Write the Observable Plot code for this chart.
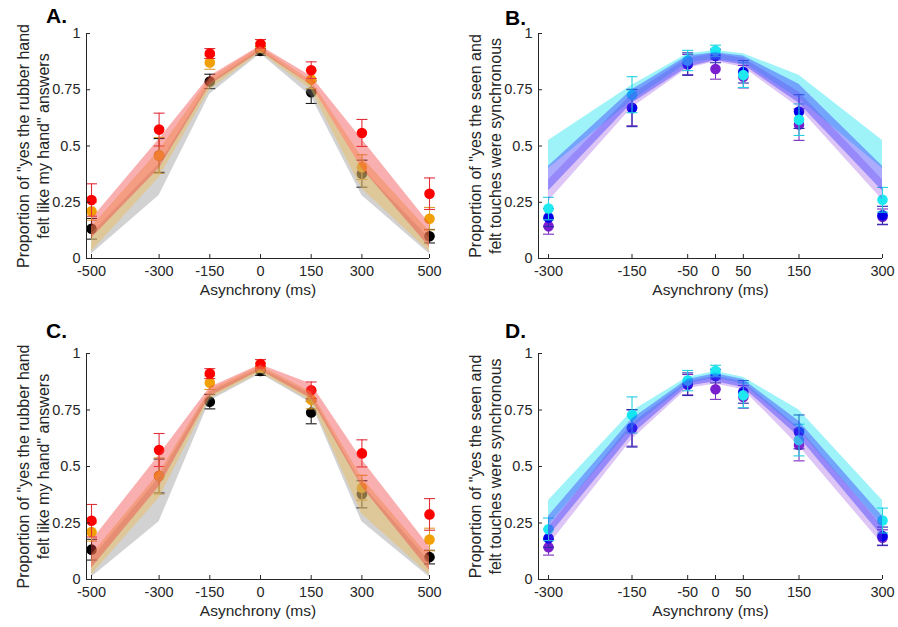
<!DOCTYPE html>
<html>
<head>
<meta charset="utf-8">
<script src="https://cdn.jsdelivr.net/npm/d3@7"></script>
<script src="https://cdn.jsdelivr.net/npm/@observablehq/plot@0.6"></script>
<style>
  body { margin: 0; background: #fff; }
  #wrap { position: relative; width: 898px; height: 627px; overflow: hidden; font-family: "Liberation Sans", Arial, Helvetica, sans-serif; }
  .pl { position: absolute; }
  .letter { position: absolute; font-weight: bold; font-size: 21px; line-height: 21px; color: #000; }
</style>
</head>
<body>
<div id="wrap"></div>
<script>
// ---------- data ----------
const asyncA = [-500, -300, -150, 0, 150, 300, 500];
const asyncB = [-300, -150, -50, 0, 50, 150, 300];
const yTicks = [0, 0.25, 0.5, 0.75, 1];
const yTickLabels = ["0", "0.25", "0.5", "0.75", "1"];

// panels A and C: observed proportions (mean, error)
const redMean = [0.260, 0.573, 0.911, 0.953, 0.837, 0.558, 0.288];
const redErr = [0.072, 0.073, 0.022, 0.020, 0.037, 0.060, 0.070];
const orangeMean = [0.210, 0.458, 0.871, 0.938, 0.795, 0.406, 0.177];
const orangeErr = [0.040, 0.080, 0.030, 0.020, 0.040, 0.055, 0.050];
const blackMean = [0.132, 0.458, 0.787, 0.923, 0.739, 0.377, 0.099];
const blackErr = [0.046, 0.075, 0.032, 0.020, 0.050, 0.060, 0.030];

// panel A model bands
const aRedLo = [0.09, 0.40, 0.77, 0.920, 0.77, 0.40, 0.05];
const aRedHi = [0.175, 0.53, 0.81, 0.945, 0.81, 0.53, 0.155];
const aWheatLo = [0.03, 0.36, 0.75, 0.915, 0.75, 0.31, 0.03];
const aWheatHi = [0.14, 0.48, 0.80, 0.940, 0.79, 0.45, 0.12];
const aGrayLo = [0.02, 0.28, 0.73, 0.910, 0.72, 0.28, 0.02];
const aGrayHi = [0.11, 0.42, 0.78, 0.930, 0.77, 0.40, 0.09];

// panel C model bands
const cRedLo = [0.05, 0.41, 0.81, 0.925, 0.80, 0.41, 0.04];
const cRedHi = [0.17, 0.55, 0.85, 0.950, 0.865, 0.53, 0.145];
const cWheatLo = [0.02, 0.36, 0.80, 0.915, 0.79, 0.29, 0.02];
const cWheatHi = [0.11, 0.47, 0.84, 0.945, 0.83, 0.45, 0.10];
const cGrayLo = [0.01, 0.255, 0.79, 0.910, 0.78, 0.255, 0.01];
const cGrayHi = [0.09, 0.45, 0.83, 0.935, 0.82, 0.42, 0.08];

// panels B and D: observed proportions
const cyanMean = [0.222, 0.728, 0.880, 0.923, 0.815, 0.617, 0.261];
const cyanErr = [0.050, 0.080, 0.045, 0.025, 0.055, 0.070, 0.055];
const blueMean = [0.182, 0.669, 0.864, 0.900, 0.830, 0.653, 0.192];
const blueErr = [0.040, 0.083, 0.050, 0.030, 0.050, 0.075, 0.040];
const purpleMean = [0.143, 0.670, 0.862, 0.842, 0.808, 0.595, 0.185];
const purpleErr = [0.035, 0.080, 0.045, 0.045, 0.050, 0.070, 0.035];

// panel B model bands
const bCyanLo = [0.40, 0.70, 0.87, 0.885, 0.87, 0.71, 0.40];
const bCyanHi = [0.525, 0.77, 0.91, 0.925, 0.91, 0.815, 0.525];
const bBlueLo = [0.30, 0.69, 0.85, 0.880, 0.86, 0.69, 0.30];
const bBlueHi = [0.41, 0.75, 0.90, 0.915, 0.90, 0.775, 0.41];
const bLavLo = [0.255, 0.67, 0.845, 0.875, 0.85, 0.67, 0.26];
const bLavHi = [0.35, 0.73, 0.89, 0.910, 0.89, 0.74, 0.35];

// panel D model bands
const dCyanLo = [0.24, 0.67, 0.865, 0.890, 0.865, 0.66, 0.24];
const dCyanHi = [0.35, 0.745, 0.895, 0.920, 0.895, 0.75, 0.35];
const dBlueLo = [0.19, 0.64, 0.855, 0.875, 0.85, 0.63, 0.19];
const dBlueHi = [0.28, 0.71, 0.885, 0.910, 0.885, 0.70, 0.28];
const dLavLo = [0.15, 0.62, 0.845, 0.865, 0.84, 0.59, 0.155];
const dLavHi = [0.23, 0.69, 0.875, 0.900, 0.875, 0.67, 0.235];

const yLabelA = "Proportion of \"yes the rubber hand\nfelt like my hand\" answers";
const yLabelB = "Proportion of \"yes the seen and\nfelt touches were synchronous";
const xLabel = "Asynchrony (ms)";

// ---------- helpers ----------
const TXT = "#262626";
const capSymbol = {
  draw(context, size) {
    const r = Math.sqrt(size / Math.PI);
    context.moveTo(-r, 0);
    context.lineTo(r, 0);
  }
};

function pts(xs, mean, err) {
  return xs.map((x, i) => ({x, y: mean[i], lo: mean[i] - err[i], hi: mean[i] + err[i]}));
}
function band(xs, lo, hi) {
  return xs.map((x, i) => ({x, lo: lo[i], hi: hi[i]}));
}

function panel(cfg) {
  const marks = [];
  // observed points with error bars (drawn under the model bands)
  for (const s of cfg.series) {
    const d = pts(cfg.xs, s.mean, s.err);
    marks.push(Plot.ruleX(d, {x: "x", y1: "lo", y2: "hi", stroke: s.bar, strokeWidth: 1.1}));
    marks.push(Plot.dot(d, {x: "x", y: "lo", symbol: capSymbol, r: 5.5, stroke: s.bar, fill: "none", strokeWidth: 1.1}));
    marks.push(Plot.dot(d, {x: "x", y: "hi", symbol: capSymbol, r: 5.5, stroke: s.bar, fill: "none", strokeWidth: 1.1}));
    marks.push(Plot.dot(d, {x: "x", y: "y", r: 5.3, fill: s.color, stroke: "none"}));
  }
  for (const b of cfg.bands) {
    marks.push(Plot.areaY(band(cfg.xs, b.lo, b.hi), {x: "x", y1: "lo", y2: "hi", fill: b.fill, fillOpacity: b.op, curve: "linear"}));
  }
  // axes lines
  marks.push(Plot.ruleX([cfg.xDomain[0]], {stroke: TXT, strokeWidth: 1}));
  marks.push(Plot.ruleY([0], {stroke: TXT, strokeWidth: 1}));
  // inward tick marks
  marks.push(Plot.axisX({ticks: cfg.xs, tickSize: -4, tickFormat: () => "", stroke: TXT, label: null}));
  marks.push(Plot.axisY({ticks: yTicks, tickSize: -4, tickFormat: () => "", stroke: TXT, label: null}));
  // tick labels
  marks.push(Plot.axisX({ticks: cfg.xs, tickSize: 0, tickPadding: 7, tickFormat: d => String(d), fill: TXT, fontSize: 14.5, label: null}));
  marks.push(Plot.axisY({ticks: yTicks, tickSize: 0, tickPadding: 6, tickFormat: d => yTickLabels[yTicks.indexOf(d)], fill: TXT, fontSize: 14.5, label: null}));
  // titles
  marks.push(Plot.text([xLabel], {text: d => d, frameAnchor: "bottom", dy: 36, fontSize: 15.5, fill: TXT}));
  marks.push(Plot.text([cfg.yLabel], {text: d => d, frameAnchor: "left", textAnchor: "middle", lineAnchor: "middle", dx: -54, rotate: -90, fontSize: 16, lineHeight: 1.25, fill: TXT}));

  const svg = Plot.plot({
    width: 449,
    height: cfg.height,
    marginLeft: cfg.ml, marginRight: cfg.mr, marginTop: cfg.mt, marginBottom: cfg.mb,
    style: {fontFamily: "'Liberation Sans', Arial, Helvetica, sans-serif", fontSize: "14.5px", color: TXT, background: "white", overflow: "visible"},
    x: {domain: cfg.xDomain, axis: null},
    y: {domain: [0, 1], axis: null},
    marks
  });
  svg.classList.add("pl");
  svg.style.left = cfg.left + "px";
  svg.style.top = cfg.top + "px";
  return svg;
}

const seriesA = [
  {mean: blackMean, err: blackErr, color: "#000000", bar: "#1a1a1a"},
  {mean: orangeMean, err: orangeErr, color: "#f2a007", bar: "#e0a030"},
  {mean: redMean, err: redErr, color: "#ff0000", bar: "#e0303a"}
];
const seriesB = [
  {mean: purpleMean, err: purpleErr, color: "#7a1fcf", bar: "#7a2ac0"},
  {mean: blueMean, err: blueErr, color: "#0000e6", bar: "#2a2ab0"},
  {mean: cyanMean, err: cyanErr, color: "#1ee8f0", bar: "#22d0e0"}
];

const wrap = document.getElementById("wrap");
const xDomA = [-514.8, 500];
const xDomB = [-318, 300];

wrap.appendChild(panel({
  xs: asyncA, xDomain: xDomA, left: 0, top: 0, height: 313, ml: 86, mr: 20, mt: 33, mb: 55,
  yLabel: yLabelA, series: seriesA,
  bands: [
    {lo: aGrayLo, hi: aGrayHi, fill: "#888888", op: 0.38},
    {lo: aWheatLo, hi: aWheatHi, fill: "#eebb55", op: 0.45},
    {lo: aRedLo, hi: aRedHi, fill: "#f04040", op: 0.42}
  ]
}));
wrap.appendChild(panel({
  xs: asyncB, xDomain: xDomB, left: 449, top: 0, height: 313, ml: 89, mr: 16, mt: 33, mb: 55,
  yLabel: yLabelB, series: seriesB,
  bands: [
    {lo: bCyanLo, hi: bCyanHi, fill: "#00e0f0", op: 0.38},
    {lo: bLavLo, hi: bLavHi, fill: "#9040e0", op: 0.3},
    {lo: bBlueLo, hi: bBlueHi, fill: "#3030ff", op: 0.4}
  ]
}));
wrap.appendChild(panel({
  xs: asyncA, xDomain: xDomA, left: 0, top: 313, height: 314, ml: 86, mr: 20, mt: 40, mb: 48,
  yLabel: yLabelA, series: seriesA,
  bands: [
    {lo: cGrayLo, hi: cGrayHi, fill: "#888888", op: 0.38},
    {lo: cWheatLo, hi: cWheatHi, fill: "#eebb55", op: 0.45},
    {lo: cRedLo, hi: cRedHi, fill: "#f04040", op: 0.42}
  ]
}));
wrap.appendChild(panel({
  xs: asyncB, xDomain: xDomB, left: 449, top: 313, height: 314, ml: 89, mr: 16, mt: 40, mb: 48,
  yLabel: yLabelB, series: seriesB,
  bands: [
    {lo: dCyanLo, hi: dCyanHi, fill: "#00e0f0", op: 0.38},
    {lo: dLavLo, hi: dLavHi, fill: "#9040e0", op: 0.3},
    {lo: dBlueLo, hi: dBlueHi, fill: "#3030ff", op: 0.4}
  ]
}));

const letters = [["A.", 46, 5], ["B.", 505, 7], ["C.", 46, 320], ["D.", 505, 320]];
for (const [t, x, y] of letters) {
  const el = document.createElement("div");
  el.className = "letter";
  el.textContent = t;
  el.style.left = x + "px";
  el.style.top = y + "px";
  wrap.appendChild(el);
}
</script>
</body>
</html>
